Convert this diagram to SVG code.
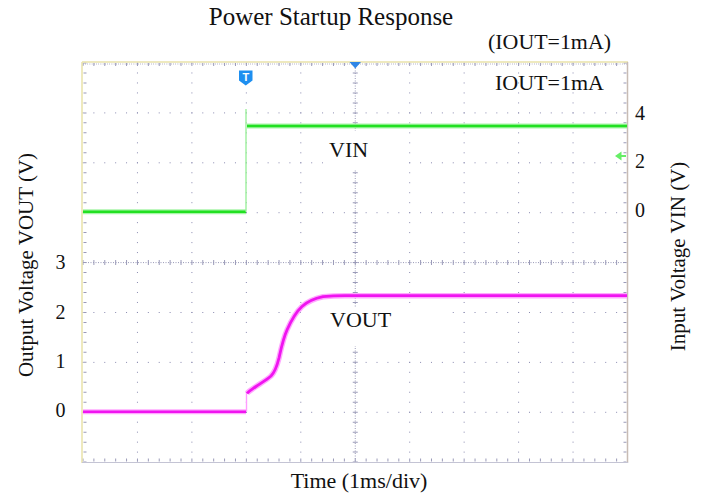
<svg xmlns="http://www.w3.org/2000/svg" width="704" height="497" viewBox="0 0 704 497">
<style>
text{font-family:"Liberation Serif","Times New Roman",serif;fill:#111}
.g{stroke:#8a8ab0;stroke-width:1;fill:none}
.gh{stroke-dasharray:1 9.89}
.gv{stroke-dasharray:1 8.9775}
.tk{stroke:#9a9ab8;fill:none}
.box{fill:#fff}
</style>
<rect width="704" height="497" fill="#fff"/>
<g id="title">
<text x="331" y="25" font-size="25" text-anchor="middle">Power Startup Response</text>
<text x="488" y="49" font-size="20" textLength="123" lengthAdjust="spacingAndGlyphs">(IOUT=1mA)</text>
</g>
<g id="grid">
<!-- vertical grid lines -->
<g class="g gv">
<line x1="137.45" y1="62.5" x2="137.45" y2="463"/>
<line x1="191.9" y1="62.5" x2="191.9" y2="463"/>
<line x1="246.35" y1="62.5" x2="246.35" y2="463"/>
<line x1="300.8" y1="62.5" x2="300.8" y2="463"/>
<line x1="409.7" y1="62.5" x2="409.7" y2="463"/>
<line x1="464.15" y1="62.5" x2="464.15" y2="463"/>
<line x1="518.6" y1="62.5" x2="518.6" y2="463"/>
<line x1="573.05" y1="62.5" x2="573.05" y2="463"/>
</g>
<!-- horizontal grid lines -->
<g class="g gh">
<line x1="82.5" y1="112.9" x2="628" y2="112.9"/>
<line x1="82.5" y1="162.8" x2="628" y2="162.8"/>
<line x1="82.5" y1="212.7" x2="628" y2="212.7"/>
<line x1="82.5" y1="312.5" x2="628" y2="312.5"/>
<line x1="82.5" y1="362.4" x2="628" y2="362.4"/>
<line x1="82.5" y1="412.3" x2="628" y2="412.3"/>
</g>
<!-- center axes -->
<line class="tk" x1="83" y1="262.6" x2="627.5" y2="262.6" stroke-dasharray="1 1.5"/>
<line class="tk" x1="82.5" y1="262.6" x2="628" y2="262.6" stroke-width="5" stroke-dasharray="1 9.89"/>
<line class="tk" x1="355.25" y1="63" x2="355.25" y2="462" stroke-dasharray="1 1.5"/>
<line class="tk" x1="355.25" y1="62.5" x2="355.25" y2="463" stroke-width="5" stroke-dasharray="1 8.9775"/>
<!-- border ticks -->
<line class="tk" x1="82.5" y1="64.5" x2="628" y2="64.5" stroke-width="3" stroke-dasharray="1 9.89"/>
<line class="tk" x1="83" y1="64" x2="627" y2="64" stroke-width="2" stroke-dasharray="0.6 1.6" opacity="0.6"/>
<line class="tk" x1="82.5" y1="460" x2="628" y2="460" stroke-width="3" stroke-dasharray="1 9.89"/>
<line class="tk" x1="85" y1="62.5" x2="85" y2="463" stroke-width="3" stroke-dasharray="1 8.9775"/>
<line class="tk" x1="625" y1="62.5" x2="625" y2="463" stroke-width="3" stroke-dasharray="1 8.9775"/>
<!-- frame -->
<line x1="82" y1="62" x2="628" y2="62" stroke="#e8e2a8" stroke-width="1.5"/>
<line x1="82" y1="62" x2="82" y2="463" stroke="#e8e2a8" stroke-width="1.5"/>
<line x1="627.5" y1="62" x2="627.5" y2="463" stroke="#c8bcb4" stroke-width="1.5"/>
<line x1="82" y1="462.5" x2="628" y2="462.5" stroke="#c4c4d4" stroke-width="1"/>
</g>
<g id="label-boxes">
<rect class="box" x="323" y="131" width="82" height="38"/>
<rect class="box" x="301" y="308" width="151" height="38"/>
</g>
<g id="traces">
<g id="vin-trace" fill="none">
<path d="M83,211.7 H246" stroke="#a8f5a8" stroke-width="5"/>
<path d="M83,211.7 H246" stroke="#22e022" stroke-width="2.6"/>
<line x1="246" y1="211.7" x2="246" y2="109" stroke="#9cf09c" stroke-width="1.4"/>
<path d="M247,126 H627" stroke="#a8f5a8" stroke-width="5"/>
<path d="M247,126 H627" stroke="#22e022" stroke-width="2.6"/>
</g>
<g id="vout-trace" fill="none">
<line x1="246.5" y1="411.7" x2="246.5" y2="392" stroke="#ff9cff" stroke-width="1.4"/>
<path d="M83,411.7 H246" stroke="#ffa8ff" stroke-width="5"/>
<path d="M83,411.7 H246" stroke="#f014f0" stroke-width="2.6"/>
<path d="M247,393.3 C249,391 251,390 256,386.5 C262,382.5 267,379.5 271,376 C275,372 277,366 279,358 C281,349 283,339 287,330 C291,321 296,312 302,306.5 C307,302 312,299 323,296.7 C330,296 336,295.7 345,295.7 H627" stroke="#ffa8ff" stroke-width="5.5"/>
<path d="M247,393.3 C249,391 251,390 256,386.5 C262,382.5 267,379.5 271,376 C275,372 277,366 279,358 C281,349 283,339 287,330 C291,321 296,312 302,306.5 C307,302 312,299 323,296.7 C330,296 336,295.7 345,295.7 H627" stroke="#f014f0" stroke-width="2.8"/>
</g>
</g>
<g id="markers">
<g id="trigger-marker">
<path d="M239,70.5 H252.5 V80.5 L245.75,85.5 L239,80.5 Z" fill="#1e8ff0"/>
<text x="245.75" y="81" font-family="Liberation Sans,Arial,sans-serif" font-size="11" font-weight="bold" text-anchor="middle" style="fill:#fff;font-family:'Liberation Sans',Arial,sans-serif">T</text>
</g>
<path id="time-marker" d="M349.5,62 H361 L355.25,68.5 Z" fill="#2f86e6"/>
<g id="level-marker">
<path d="M615,156 L621.5,151.5 V160.5 Z" fill="#66ee66"/>
<line x1="620" y1="156" x2="626" y2="156" stroke="#66ee66" stroke-width="2"/>
</g>
</g>
<g id="labels">
<text x="329" y="157.3" font-size="22">VIN</text>
<text x="330" y="326.7" font-size="22">VOUT</text>
<text x="495" y="90" font-size="22">IOUT=1mA</text>
<g font-size="20" text-anchor="middle">
<text x="60.5" y="269">3</text>
<text x="60.5" y="319">2</text>
<text x="60.5" y="368">1</text>
<text x="60.5" y="417">0</text>
<text x="640" y="119.5">4</text>
<text x="640" y="167.5">2</text>
<text x="640" y="217">0</text>
</g>
<text transform="translate(33.3,265) rotate(-90)" font-size="21" text-anchor="middle">Output Voltage VOUT (V)</text>
<text transform="translate(685,256.5) rotate(-90)" font-size="21" text-anchor="middle">Input Voltage VIN (V)</text>
<text x="359" y="487.5" font-size="22" text-anchor="middle">Time (1ms/div)</text>
</g>
</svg>
